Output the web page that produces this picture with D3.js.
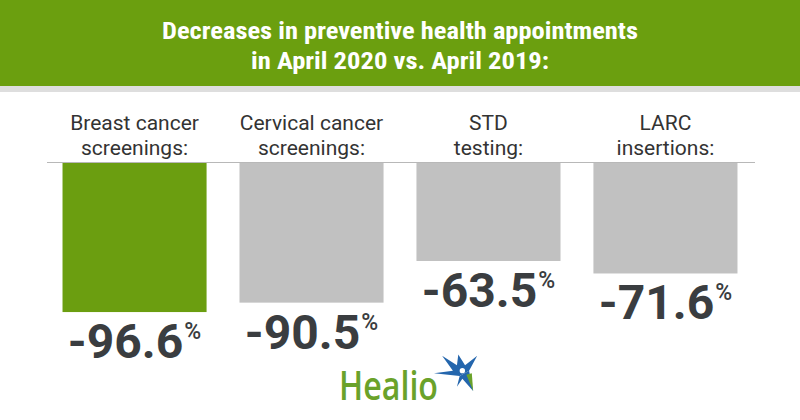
<!DOCTYPE html>
<html>
<head>
<meta charset="utf-8">
<script src="https://cdn.jsdelivr.net/npm/d3@7"></script>
<style>
  body { margin: 0; background: #fff; }
  svg { display: block; }
</style>
</head>
<body>
<svg id="chart" width="800" height="420"></svg>
<script>
// Data
const categories = ["Breast cancer screenings:", "Cervical cancer screenings:", "STD testing:", "LARC insertions:"];
const labelLines = [["Breast cancer", "screenings:"], ["Cervical cancer", "screenings:"], ["STD", "testing:"], ["LARC", "insertions:"]];
const values = [-96.6, -90.5, -63.5, -71.6];
const barColors = ["#6b9e10", "#c1c1c1", "#c1c1c1", "#c1c1c1"];
const titleLines = ["Decreases in preventive health appointments", "in April 2020 vs. April 2019:"];

const svg = d3.select("#chart");
const W = 800;

// Header band
svg.append("rect").attr("x", 0).attr("y", 0).attr("width", W).attr("height", 86).attr("fill", "#6b9f0f");
svg.append("rect").attr("x", 0).attr("y", 86).attr("width", W).attr("height", 6).attr("fill", "#dedede");

// Title (condensed look via textLength)
const titleWidths = [476, 298];
titleLines.forEach((t, i) => {
    svg.append("text")
        .attr("x", W / 2)
        .attr("y", 39 + i * 30)
        .attr("text-anchor", "middle")
        .attr("font-family", "'Roboto Condensed', 'Liberation Sans Narrow', Roboto, sans-serif")
        .attr("font-weight", 700)
        .attr("font-size", 23)
        .attr("fill", "#ffffff")
        .attr("textLength", titleWidths[i])
        .attr("lengthAdjust", "spacingAndGlyphs")
        .text(t);
});

// Scales
const x = d3.scaleBand()
    .domain(categories)
    .range([45, 755])
    .paddingInner(0.186)
    .paddingOuter(0.099);

const y = d3.scaleLinear()
    .domain([0, -100])
    .range([163, 163 + 154.3]);

// Category labels
categories.forEach((c, i) => {
    const cx = x(c) + x.bandwidth() / 2;
    labelLines[i].forEach((line, j) => {
        svg.append("text")
            .attr("x", cx)
            .attr("y", 130 + j * 25)
            .attr("text-anchor", "middle")
            .attr("font-family", "Roboto, sans-serif")
            .attr("font-size", 21)
            .attr("fill", "#333333")
            .text(line);
    });
});

// Bars
svg.selectAll("rect.bar")
    .data(values)
    .join("rect")
    .attr("class", "bar")
    .attr("x", (d, i) => x(categories[i]))
    .attr("y", y(0))
    .attr("width", x.bandwidth())
    .attr("height", d => y(d) - y(0))
    .attr("fill", (d, i) => barColors[i]);

// Baseline
svg.append("line")
    .attr("x1", 47).attr("x2", 755)
    .attr("y1", y(0) - 0.5).attr("y2", y(0) - 0.5)
    .attr("stroke", "#b8b8b8")
    .attr("stroke-width", 1);

// Value labels
values.forEach((v, i) => {
    const cx = x(categories[i]) + x.bandwidth() / 2;
    const t = svg.append("text")
        .attr("x", cx)
        .attr("y", y(v) + 46)
        .attr("text-anchor", "middle")
        .attr("font-family", "Roboto, sans-serif")
        .attr("font-weight", 700)
        .attr("fill", "#3a3d40");
    t.append("tspan").attr("font-size", 48).text(v.toFixed(1));
    t.append("tspan").attr("font-size", 23).attr("font-weight", 500).attr("dx", 1).attr("dy", -19).text("%");
});

// Healio logo
svg.append("text")
    .attr("x", 339)
    .attr("y", 400)
    .attr("font-family", "'Open Sans', sans-serif")
    .attr("font-size", 40)
    .attr("font-weight", 600)
    .attr("fill", "#6aa22a")
    .attr("textLength", 99)
    .attr("lengthAdjust", "spacingAndGlyphs")
    .text("Healio");

const star = svg.append("g").attr("transform", "translate(461,372) scale(1.35)");
star.append("polygon")
    .attr("points", "-14,-12 -3,-5 -2,-13 3,-5 12,-12 6,-1 -1,3 -20,1 -6,-1")
    .attr("fill", "#2466ad");
star.append("polygon")
    .attr("points", "-1,3 6,-1 9,14 1,5 -3,11")
    .attr("fill", "#2466ad");
star.append("polygon")
    .attr("points", "4,2 8,1 9,14")
    .attr("fill", "#6aa22a");
star.append("circle").attr("r", 2).attr("cx", 1).attr("cy", -1).attr("fill", "#ffffff");
</script>
</body>
</html>
